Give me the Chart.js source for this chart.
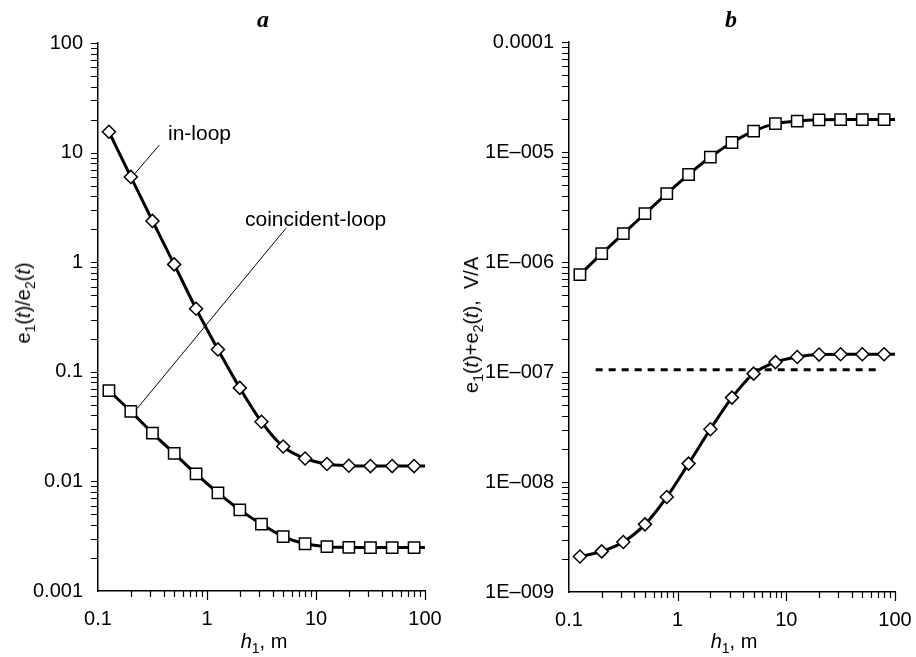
<!DOCTYPE html>
<html>
<head>
<meta charset="utf-8">
<script src="https://cdn.jsdelivr.net/npm/chart.js@4.4.1/dist/chart.umd.min.js"></script>
<style>
  body { margin: 0; background: #fff; }
  #wrap { position: relative; width: 916px; height: 657px; font-family: 'Liberation Sans', Arial, sans-serif; color: #000; }
  canvas { position: absolute; top: 0; }
  .txt { position: absolute; white-space: nowrap; font-size: 20px; line-height: 1; }
  .ttl { font-family: 'Liberation Serif', 'Times New Roman', serif; font-style: italic; font-weight: bold; font-size: 24px; transform: translate(-50%, -50%); }
  .rot { transform: translate(-50%, -50%) rotate(-90deg); }
  .ctr { transform: translate(-50%, -50%); }
  .sub { font-size: 14px; position: relative; top: 5px; }
</style>
</head>
<body>
<div id="wrap">
  <canvas id="chartA" width="458" height="657" style="left:0"></canvas>
  <canvas id="chartB" width="458" height="657" style="left:458px"></canvas>

  <div class="txt ttl" style="left:263px; top:19px">a</div>
  <div class="txt ttl" style="left:731px; top:19px">b</div>

  <div class="txt" style="left:168px; top:132px; transform: translateY(-50%); font-size:21px">in-loop</div>
  <div class="txt" style="left:245px; top:218px; transform: translateY(-50%); font-size:21px">coincident-loop</div>

  <div class="txt rot" style="left:23px; top:303px">e<span class="sub">1</span>(<i>t</i>)/e<span class="sub">2</span>(<i>t</i>)</div>
  <div class="txt rot" style="left:471px; top:325px">e<span class="sub">1</span>(<i>t</i>)+e<span class="sub">2</span>(<i>t</i>),&nbsp; V/A</div>

  <div class="txt ctr" style="left:264px; top:641px"><i>h</i><span class="sub">1</span>, m</div>
  <div class="txt ctr" style="left:734px; top:641px"><i>h</i><span class="sub">1</span>, m</div>
</div>

<script>
// ---------------- data ----------------
// loop height h1 in m (last entry = curve continued to the axis end, no marker)
var hX = [0.126, 0.2, 0.316, 0.5, 0.794, 1.26, 2, 3.16, 5, 7.94, 12.6, 20, 31.6, 50, 79.4, 100];

// panel a : e1(t)/e2(t)
var inLoop = [15.5, 6.0, 2.38, 0.955, 0.376, 0.16, 0.0713, 0.035, 0.0208, 0.0162, 0.0144, 0.0139, 0.0138, 0.0138, 0.0138, 0.0138];
var coincidentLoop = [0.0673, 0.0436, 0.0276, 0.018, 0.0117, 0.00787, 0.0055, 0.00407, 0.00314, 0.0027, 0.00254, 0.0025, 0.00249, 0.00249, 0.00249, 0.00249];

// leader lines for the labels (h1, value)
var inLeaderX = [0.365, 0.218];
var inLeaderY = [11.7, 6.44];
var coLeaderX = [5.3, 0.228];
var coLeaderY = [2.04, 0.0461];

// panel b : e1(t)+e2(t), V/A
var squaresB = [7.67e-7, 1.19e-6, 1.81e-6, 2.75e-6, 4.19e-6, 6.24e-6, 9.0e-6, 1.22e-5, 1.55e-5, 1.81e-5, 1.91e-5, 1.96e-5, 1.97e-5, 1.97e-5, 1.97e-5, 1.97e-5];
var diamondsB = [2.1e-9, 2.34e-9, 2.85e-9, 4.12e-9, 7.3e-9, 1.47e-8, 3.02e-8, 5.85e-8, 9.66e-8, 1.23e-7, 1.37e-7, 1.44e-7, 1.45e-7, 1.45e-7, 1.45e-7, 1.45e-7];
var dashX = [0.176, 70];
var dashY = [1.05e-7, 1.05e-7];

// tick labels
var xTickVals = [0.1, 1, 10, 100];
var xTickLabels = ['0.1', '1', '10', '100'];
var yTickValsA = [0.001, 0.01, 0.1, 1, 10, 100];
var yTickLabelsA = ['0.001', '0.01', '0.1', '1', '10', '100'];
var yTickValsB = [1e-9, 1e-8, 1e-7, 1e-6, 1e-5, 1e-4];
var yTickLabelsB = ['1E\u2013009', '1E\u2013008', '1E\u2013007', '1E\u2013006', '1E\u2013005', '0.0001'];

//================================================================ helpers
function pts(xs, ys) {
    return xs.map(function(v, i) { return {x: v, y: ys[i]}; });
}

function isMajor(v) {
    var l = Math.log10(v);
    return Math.abs(l - Math.round(l)) < 1e-6;
}

// 1..9 x 10^n between the decade values
function decadeTicks(decades) {
    var out = [];
    for (var i = 0; i < decades.length; i++) {
        out.push({value: decades[i]});
        if (i < decades.length - 1) {
            for (var k = 2; k <= 9; k++) out.push({value: decades[i] * k});
        }
    }
    return out;
}

function labelFor(vals, labels) {
    return function(value) {
        for (var i = 0; i < vals.length; i++) {
            if (Math.abs(Math.log10(value) - Math.log10(vals[i])) < 1e-6) return labels[i];
        }
        return '';
    };
}

var tickFont = {family: "'Liberation Sans', Arial, sans-serif", size: 20};

// tick marks: x major 9px / minor 6px downwards, y 7px to the left
var tickMarks = {
    id: 'tickMarks',
    afterDraw: function(chart) {
        var ctx = chart.ctx;
        var xs = chart.scales.x, ys = chart.scales.y;
        var area = chart.chartArea;
        ctx.save();
        ctx.strokeStyle = '#000';
        ctx.lineWidth = 1.2;
        ctx.beginPath();
        xs.ticks.forEach(function(t) {
            if (Math.abs(t.value - xs.min) < 1e-12) return;
            var px = Math.round(xs.getPixelForValue(t.value)) + 0.5;
            var len = isMajor(t.value) ? 9 : 6;
            ctx.moveTo(px, area.bottom);
            ctx.lineTo(px, area.bottom + len);
        });
        ys.ticks.forEach(function(t) {
            if (Math.abs(t.value / ys.min - 1) < 1e-6) return;
            var py = Math.round(ys.getPixelForValue(t.value)) + 0.5;
            ctx.moveTo(area.left, py);
            ctx.lineTo(area.left - 7, py);
        });
        ctx.stroke();
        ctx.restore();
    }
};

function series(data, style, radius) {
    return {
        data: data,
        borderColor: '#000',
        borderWidth: 3,
        cubicInterpolationMode: 'monotone',
        pointStyle: style,
        pointRadius: function(c) { return c.dataIndex === data.length - 1 ? 0 : radius; },
        pointBackgroundColor: '#fff',
        pointBorderColor: '#000',
        pointBorderWidth: 1.5,
        fill: false
    };
}

function thinLine(data, width, dash) {
    return {
        data: data,
        borderColor: '#000',
        borderWidth: width,
        borderDash: dash || [],
        pointRadius: 0,
        fill: false
    };
}

function makeOptions(yMin, yMax, yVals, yLabels, yWidth, xHeight, pad) {
    return {
        responsive: false,
        animation: false,
        events: [],
        devicePixelRatio: 1,
        layout: {padding: pad},
        plugins: {legend: {display: false}, tooltip: {enabled: false}},
        scales: {
            x: {
                type: 'logarithmic',
                position: 'bottom',
                min: 0.1,
                max: 100,
                grid: {display: false, drawTicks: false, tickLength: 0},
                border: {display: true, color: '#000', width: 1.5},
                afterBuildTicks: function(s) { s.ticks = decadeTicks(xTickVals); },
                afterFit: function(s) {
                    s.height = xHeight;
                    s.paddingLeft = 0;
                    s.paddingRight = 0;
                },
                ticks: {
                    autoSkip: false,
                    maxRotation: 0,
                    padding: 16,
                    color: '#000',
                    font: tickFont,
                    callback: labelFor(xTickVals, xTickLabels)
                }
            },
            y: {
                type: 'logarithmic',
                min: yMin,
                max: yMax,
                grid: {display: false, drawTicks: false, tickLength: 0},
                border: {display: true, color: '#000', width: 1.5},
                afterBuildTicks: function(s) { s.ticks = decadeTicks(yVals); },
                afterFit: function(s) {
                    s.width = yWidth;
                    s.paddingTop = 0;
                    s.paddingBottom = 0;
                },
                ticks: {
                    autoSkip: false,
                    padding: 15,
                    color: '#000',
                    font: tickFont,
                    callback: labelFor(yVals, yLabels)
                }
            }
        }
    };
}

//================================================================ panel a
new Chart(document.getElementById('chartA'), {
    type: 'line',
    data: {
        datasets: [
            series(pts(hX, inLoop), 'rectRot', 6.5),
            series(pts(hX, coincidentLoop), 'rect', 8),
            thinLine(pts(inLeaderX, inLeaderY), 1),
            thinLine(pts(coLeaderX, coLeaderY), 1)
        ]
    },
    options: makeOptions(0.001, 100, yTickValsA, yTickLabelsA, 98, 66, {top: 43, right: 33, left: 0, bottom: 0}),
    plugins: [tickMarks]
});

//================================================================ panel b
new Chart(document.getElementById('chartB'), {
    type: 'line',
    data: {
        datasets: [
            series(pts(hX, squaresB), 'rect', 8),
            series(pts(hX, diamondsB), 'rectRot', 6.5),
            thinLine(pts(dashX, dashY), 3, [7, 6])
        ]
    },
    options: makeOptions(1e-9, 1e-4, yTickValsB, yTickLabelsB, 111, 65, {top: 42, right: 21, left: 0, bottom: 0}),
    plugins: [tickMarks]
});
</script>
</body>
</html>
